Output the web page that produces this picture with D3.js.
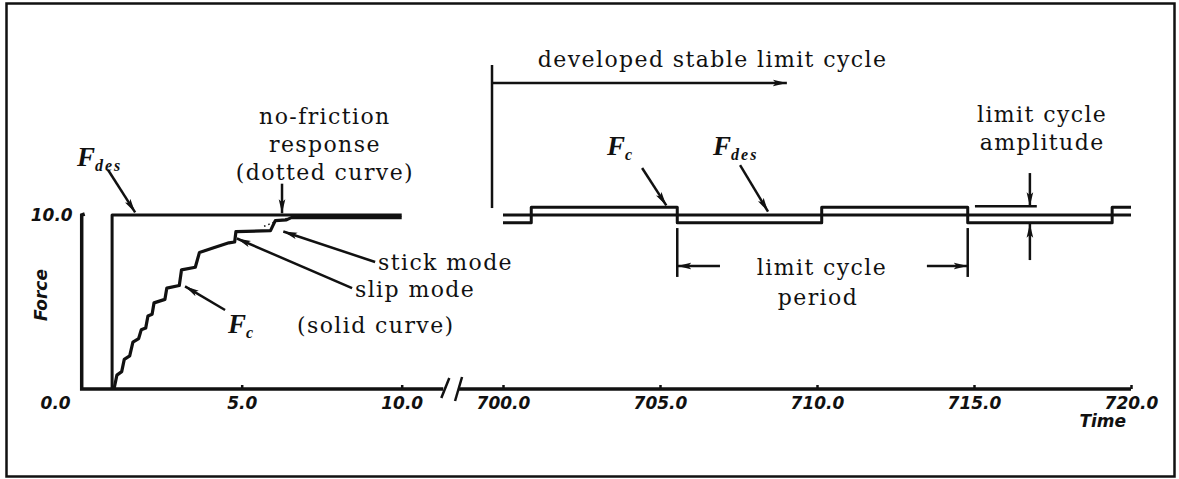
<!DOCTYPE html>
<html>
<head>
<meta charset="utf-8">
<script src="https://cdn.jsdelivr.net/npm/d3@7"></script>
<style>
	html, body { margin: 0; padding: 0; background: #fff; }
	svg { display: block; }
	.tick text, .axis-title { font-family: "DejaVu Sans", sans-serif; font-weight: bold; font-style: italic; font-size: 17px; fill: #111; }
	.note { font-family: "DejaVu Serif", serif; font-size: 22px; letter-spacing: 1.4px; fill: #111; }
	.sym { font-family: "Liberation Serif", serif; font-weight: bold; font-style: italic; font-size: 27px; fill: #111; }
</style>
</head>
<body>
<svg id="chart" width="1179" height="479"></svg>
<script>
// ------------------------
// Data
// ------------------------
const startTicks = [ 5, 10 ];
const lateTicks = [ 700, 705, 710, 715, 720 ];
const forceTicks = [ 0, 10 ];

// F_des step command (start-up)
const fdesStartTimes = [ 0.95, 0.95, 10 ];
const fdesStartValues = [ 0, 10, 10 ];

// F_c start-up staircase (solid curve): stick treads, slip risers
const fcStartTimes = [ 1.01, 1.1, 1.25, 1.33, 1.5, 1.6, 1.78, 1.86, 2.0, 2.07, 2.2, 2.26, 2.6, 2.66, 3.05, 3.12, 3.55, 3.68, 4.1, 4.6, 4.78, 4.82, 5.9, 6.05, 6.4, 6.55, 10 ];
const fcStartValues = [ 0, 0.8, 1.0, 1.7, 1.9, 2.7, 2.9, 3.4, 3.5, 4.2, 4.3, 4.95, 5.15, 5.8, 5.95, 6.85, 7.0, 7.85, 8.1, 8.4, 8.45, 9.05, 9.1, 9.68, 9.72, 9.85, 9.85 ];

// no-friction response (dotted curve), only visible near the top
const dottedTimes = [ 5.7, 6.0, 6.3, 6.7, 7.2 ];
const dottedValues = [ 9.35, 9.58, 9.76, 9.9, 9.97 ];

// developed limit cycle
const fdesLateTimes = [ 700, 720 ];
const fdesLateValues = [ 10, 10 ];
const fcLateTimes = [ 700, 700.9, 705.55, 710.15, 714.8, 719.4, 720 ];
const fcLateValues = [ 9.55, 10.45, 9.55, 10.45, 9.55, 10.45, 10.45 ];

const svg = d3.select( '#chart' );

const xStart = d3.scaleLinear().domain( [ 0, 10 ] ).range( [ 81.7, 401.7 ] );
const xLate = d3.scaleLinear().domain( [ 700, 720 ] ).range( [ 503, 1131 ] );
const y = d3.scaleLinear().domain( [ 0, 10 ] ).range( [ 389, 215 ] );

const zip = ( ts, vs ) => ts.map( ( t, i ) => [ t, vs[ i ] ] );

// arrowhead
svg.append( 'defs' ).append( 'marker' )
	.attr( 'id', 'head' )
	.attr( 'markerUnits', 'userSpaceOnUse' )
	.attr( 'viewBox', '-14 -4 15 8' )
	.attr( 'refX', 0 )
	.attr( 'refY', 0 )
	.attr( 'markerWidth', 15 )
	.attr( 'markerHeight', 8 )
	.attr( 'orient', 'auto' )
	.append( 'path' )
	.attr( 'd', 'M0,0 L-14,-3.3 L-11,0 L-14,3.3 Z' )
	.attr( 'fill', '#111' );

// outer frame
svg.append( 'rect' )
	.attr( 'x', 6.5 )
	.attr( 'y', 3.5 )
	.attr( 'width', 1168 )
	.attr( 'height', 473 )
	.attr( 'fill', 'none' )
	.attr( 'stroke', '#111' )
	.attr( 'stroke-width', 2.5 );

const g = svg.append( 'g' );

// ------------------------
// axes
// ------------------------
function bottomAxis( scale, ticks ) {
	return d3.axisBottom( scale )
		.tickValues( ticks )
		.tickSizeInner( -4 )
		.tickSizeOuter( 0 )
		.tickPadding( 8 )
		.tickFormat( d3.format( '.1f' ) );
}

const axisStart = g.append( 'g' )
	.attr( 'transform', `translate(0, ${ y( 0 ) })` )
	.call( bottomAxis( xStart, startTicks ) );
const axisLate = g.append( 'g' )
	.attr( 'transform', `translate(0, ${ y( 0 ) })` )
	.call( bottomAxis( xLate, lateTicks ) );

[ axisStart, axisLate ].forEach( a => {
	a.select( '.domain' ).remove();
	a.selectAll( 'line' ).attr( 'stroke', '#111' ).attr( 'stroke-width', 2.5 );
	a.selectAll( 'text' ).attr( 'fill', '#111' ).attr( 'font-size', null ).attr( 'font-family', null );
} );

const yAxis = g.append( 'g' )
	.attr( 'transform', `translate(${ xStart( 0 ) }, 0)` )
	.call( d3.axisLeft( y ).tickValues( forceTicks ).tickSize( 0 ).tickPadding( 9 ).tickFormat( d3.format( '.1f' ) ) );
yAxis.select( '.domain' ).remove();
yAxis.selectAll( 'text' ).attr( 'fill', '#111' ).attr( 'font-size', null ).attr( 'font-family', null );
// the 0.0 label sits on the time-label row in the figure
yAxis.selectAll( '.tick' ).filter( d => d === 0 )
	.attr( 'transform', `translate(-2, ${ y( 0 ) + 15 })` );

// axis lines with the break between the two time windows
const axisLine = d3.line();
const yBase = y( 0 );
const leftEnd = xStart( 11.3 );
const rightStart = xLate( 698.6 );
g.append( 'path' )
	.attr( 'd', axisLine( [
		[ xStart( 0 ) + 3, y( 10 ) - 1 ], [ xStart( 0 ), y( 10 ) ],
		[ xStart( 0 ), yBase ], [ leftEnd, yBase ],
	] ) )
	.attr( 'fill', 'none' ).attr( 'stroke', '#111' ).attr( 'stroke-width', 3.5 );
g.append( 'path' )
	.attr( 'd', axisLine( [ [ rightStart, yBase ], [ xLate( 720 ), yBase ] ] ) )
	.attr( 'fill', 'none' ).attr( 'stroke', '#111' ).attr( 'stroke-width', 3.5 );
[ [ leftEnd - 2, 9, 8, -11 ], [ rightStart - 4, 12, 7, -12 ] ].forEach( ( [ x0, dy0, dx, dy1 ] ) => {
	g.append( 'line' )
		.attr( 'x1', x0 ).attr( 'y1', yBase + dy0 )
		.attr( 'x2', x0 + dx ).attr( 'y2', yBase + dy1 )
		.attr( 'stroke', '#111' ).attr( 'stroke-width', 2.5 );
} );

g.append( 'text' )
	.attr( 'class', 'axis-title' )
	.attr( 'x', xLate( 719.1 ) )
	.attr( 'y', yBase + 38 )
	.attr( 'text-anchor', 'middle' )
	.text( 'Time' );

g.append( 'text' )
	.attr( 'class', 'axis-title' )
	.attr( 'transform', `translate(${ xStart( 0 ) - 35 }, ${ y( 5.4 ) }) rotate(-90)` )
	.attr( 'text-anchor', 'middle' )
	.text( 'Force' );

// ------------------------
// curves
// ------------------------
const lineStart = d3.line().x( d => xStart( d[ 0 ] ) ).y( d => y( d[ 1 ] ) );
const lineLate = d3.line().x( d => xLate( d[ 0 ] ) ).y( d => y( d[ 1 ] ) );
const stepLate = d3.line().x( d => xLate( d[ 0 ] ) ).y( d => y( d[ 1 ] ) ).curve( d3.curveStepAfter );

function curve( d, width, dash ) {
	g.append( 'path' )
		.attr( 'd', d )
		.attr( 'fill', 'none' )
		.attr( 'stroke', '#111' )
		.attr( 'stroke-width', width )
		.attr( 'stroke-dasharray', dash || null )
		.attr( 'stroke-linejoin', 'round' );
}

curve( lineStart( zip( fdesStartTimes, fdesStartValues ) ), 3 );
curve( lineStart( zip( dottedTimes, dottedValues ) ), 1.5, '1.5,3' );
curve( lineStart( zip( fcStartTimes, fcStartValues ) ), 3.2 );
curve( lineLate( zip( fdesLateTimes, fdesLateValues ) ), 3 );
curve( stepLate( zip( fcLateTimes, fcLateValues ) ), 3 );

// ------------------------
// annotations
// ------------------------
function note( x, yy, text, anchor ) {
	g.append( 'text' )
		.attr( 'class', 'note' )
		.attr( 'x', x )
		.attr( 'y', yy )
		.attr( 'text-anchor', anchor || 'start' )
		.text( text );
}

function sym( x, yy, sub ) {
	const t = g.append( 'text' ).attr( 'class', 'sym' ).attr( 'x', x ).attr( 'y', yy );
	t.append( 'tspan' ).text( 'F' );
	t.append( 'tspan' )
		.attr( 'dy', 5 )
		.attr( 'font-size', 16 )
		.attr( 'letter-spacing', sub.length > 1 ? 2 : 0 )
		.text( sub );
}

function arrow( x1, y1, x2, y2, head = true ) {
	g.append( 'line' )
		.attr( 'x1', x1 ).attr( 'y1', y1 )
		.attr( 'x2', x2 ).attr( 'y2', y2 )
		.attr( 'stroke', '#111' )
		.attr( 'stroke-width', 2.5 )
		.attr( 'marker-end', head ? 'url(#head)' : null );
}

// start-up window
sym( xStart( -0.15 ), y( 12.8 ), 'des' );
arrow( xStart( 0.82 ), y( 12.6 ), xStart( 1.67 ), y( 10.15 ) );
note( xStart( 7.6 ), y( 15.25 ), 'no-friction', 'middle' );
note( xStart( 7.6 ), y( 13.6 ), 'response', 'middle' );
note( xStart( 7.6 ), y( 12.0 ), '(dotted curve)', 'middle' );
arrow( xStart( 6.26 ), y( 11.8 ), xStart( 6.26 ), y( 10.1 ) );
note( xStart( 9.26 ), y( 6.84 ), 'stick mode' );
arrow( xStart( 9.17 ), y( 7.3 ), xStart( 6.3 ), y( 9.05 ) );
note( xStart( 8.54 ), y( 5.29 ), 'slip mode' );
arrow( xStart( 8.45 ), y( 5.8 ), xStart( 4.85 ), y( 8.65 ) );
note( xStart( 6.73 ), y( 3.22 ), '(solid curve)' );
sym( xStart( 4.57 ), y( 3.22 ), 'c' );
arrow( xStart( 4.48 ), y( 4.54 ), xStart( 3.23 ), y( 5.9 ) );

// developed limit cycle window
note( xLate( 701.11 ), y( 18.5 ), 'developed stable limit cycle' );
arrow( xLate( 699.65 ), y( 18.62 ), xLate( 699.65 ), y( 10.4 ), false );
arrow( xLate( 699.65 ), y( 17.59 ), xLate( 709.04 ), y( 17.59 ) );
sym( xLate( 703.31 ), y( 13.45 ), 'c' );
arrow( xLate( 704.43 ), y( 12.7 ), xLate( 705.2 ), y( 10.55 ) );
sym( xLate( 706.69 ), y( 13.45 ), 'des' );
arrow( xLate( 707.55 ), y( 12.87 ), xLate( 708.44 ), y( 10.2 ) );

[ fcLateTimes[ 2 ], fcLateTimes[ 4 ] ].forEach( t => {
	arrow( xLate( t ), y( 9.25 ), xLate( t ), y( 6.44 ), false );
} );
arrow( xLate( 706.91 ), y( 7.07 ), xLate( fcLateTimes[ 2 ] ), y( 7.07 ) );
arrow( xLate( 713.5 ), y( 7.07 ), xLate( fcLateTimes[ 4 ] ), y( 7.07 ) );
note( xLate( 710.16 ), y( 6.55 ), 'limit cycle', 'middle' );
note( xLate( 710.03 ), y( 4.83 ), 'period', 'middle' );

note( xLate( 717.17 ), y( 15.34 ), 'limit cycle', 'middle' );
note( xLate( 717.17 ), y( 13.74 ), 'amplitude', 'middle' );
arrow( xLate( 715.03 ), y( 10.5 ), xLate( 717.0 ), y( 10.5 ), false );
arrow( xLate( 716.78 ), y( 12.41 ), xLate( 716.78 ), y( 10.5 ) );
arrow( xLate( 716.78 ), y( 7.41 ), xLate( 716.78 ), y( 9.5 ) );
</script>
</body>
</html>
